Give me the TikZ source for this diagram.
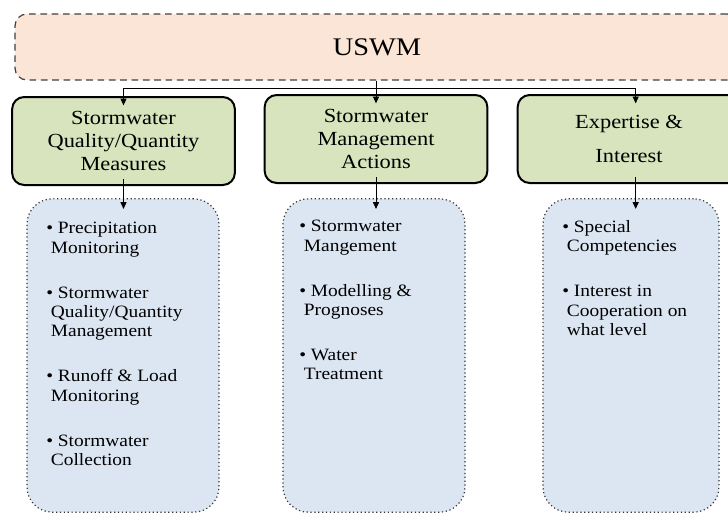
\documentclass[tikz,border=0pt]{standalone}
\usepackage{fontspec}
\setmainfont{Liberation Serif}[FakeStretch=1.12]
\usepackage{tikz}
\usetikzlibrary{positioning, arrows.meta, calc}

\definecolor{peachfill}{HTML}{FBE5D6}
\definecolor{greenfill}{HTML}{D7E4BD}
\definecolor{bluefill}{HTML}{DCE6F2}

\begin{document}
\begin{tikzpicture}[
    x=0.75pt, y=-0.75pt,
    topbox/.style={rectangle, rounded corners=9pt, draw=black!75, dashed,
                   dash pattern=on 5pt off 3.5pt, line width=0.9pt, fill=peachfill,
                   minimum width=543pt, minimum height=49.5pt,
                   font=\fontsize{19}{22}\selectfont},
    headbox/.style={rectangle, rounded corners=9pt, draw=black, line width=1.5pt,
                    fill=greenfill, minimum width=167pt, minimum height=66pt,
                    align=center, font=\fontsize{15}{17.3}\selectfont},
    listbox/.style={rectangle, rounded corners=19pt, draw=black!80, dotted,
                    line width=0.9pt, fill=bluefill, minimum height=235pt},
    listtext/.style={anchor=north west, inner sep=0pt, align=left,
                     font=\fontsize{13}{14.6}\selectfont},
    arrow/.style={-{Triangle[length=5pt, width=4.5pt]}, line width=0.6pt}
]
    \useasboundingbox (0,0) rectangle (728,514);
    \clip (0,0) rectangle (728,514);

    % === top ===
    \node[topbox] (uswm) at (377,47) {USWM};
    \coordinate (bus) at (377,88);

    % === headings ===
    \node[headbox] (g1) at (123.5,141) {Stormwater\\Quality/Quantity\\Measures};
    \node[headbox] (g2) at (376,139) {Stormwater\\Management\\Actions};
    \node[headbox] (g3) at (629,139) {Expertise \&\\[8pt]Interest};

    % === lists ===
    \node[listbox, minimum width=144pt] (b1) at (123,355.5) {};
    \node[listbox, minimum width=136.5pt] (b2) at (374,355.5) {};
    \node[listbox, minimum width=132pt] (b3) at (631,355.5) {};

    \node[listtext] (l1) at (46,222) {%
        \textbullet\ Precipitation\\ \hspace*{3.5pt}Monitoring\\[19pt]
        \textbullet\ Stormwater\\ \hspace*{3.5pt}Quality/Quantity\\ \hspace*{3.5pt}Management\\[19pt]
        \textbullet\ Runoff \& Load\\ \hspace*{3.5pt}Monitoring\\[19pt]
        \textbullet\ Stormwater\\ \hspace*{3.5pt}Collection};
    \node[listtext] (l2) at (299,220) {%
        \textbullet\ Stormwater\\ \hspace*{3.5pt}Mangement\\[19pt]
        \textbullet\ Modelling \&\\ \hspace*{3.5pt}Prognoses\\[19pt]
        \textbullet\ Water\\ \hspace*{3.5pt}Treatment};
    \node[listtext] (l3) at (562,220) {%
        \textbullet\ Special\\ \hspace*{3.5pt}Competencies\\[19pt]
        \textbullet\ Interest in\\ \hspace*{3.5pt}Cooperation on\\ \hspace*{3.5pt}what level};

    % === connectors ===
    \draw[arrow] (uswm.south -| g2.north) -- ([yshift=-7pt]g2.north);
    \draw[arrow, line width=0.5pt] (bus) -| ([yshift=-7pt]g1.north);
    \draw[arrow, line width=0.5pt] (bus) -| ([xshift=5pt, yshift=-7pt]g3.north);

    \draw[arrow] ([yshift=5pt]g1.south) -- ([yshift=-8pt]g1.south |- b1.north);
    \draw[arrow] ([yshift=5pt]g2.south) -- ([yshift=-8pt]g2.south |- b2.north);
    \draw[arrow] ([xshift=5pt, yshift=5pt]g3.south) -- ([xshift=5pt, yshift=-8pt]g3.south |- b3.north);
\end{tikzpicture}
\end{document}
